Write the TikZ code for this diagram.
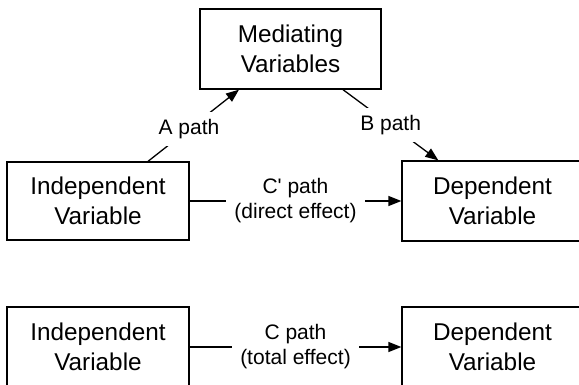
\documentclass[tikz,border=0pt]{standalone}
\usepackage{fontspec}
\setmainfont{Liberation Sans}
\usetikzlibrary{arrows.meta}
\begin{document}
\begin{tikzpicture}[x=1pt,y=-1pt,
  boxfont/.style={font=\fontsize{24.3}{30}\selectfont},
  box/.style={draw,line width=1.3pt,minimum width=182pt,minimum height=80pt,align=center,inner sep=0pt,boxfont},
  depbox/.style={box,minimum width=238pt,label={[boxfont,align=center,xshift=-28.5pt]center:Dependent\\Variable}},
  conn/.style={line width=1.3pt},
  arr/.style={conn,-{Triangle[length=13pt,width=10pt]}},
  lab/.style={fill=white,inner xsep=8pt,inner ysep=7pt,align=center,font=\fontsize{21}{25}\selectfont}]
\fill[white] (0,0) rectangle (579,384);
\useasboundingbox (0,0) rectangle (579,384);
\node[box,minimum width=181pt] (med) at (290.5,49) {Mediating\\Variables};
\node[box,minimum height=78pt] (ind1) at (98,201) {Independent\\Variable};
\node[depbox] (dep1) at (521,201) {};
\node[box] (ind2) at (98,347) {Independent\\Variable};
\node[depbox] (dep2) at (521,347) {};
\draw[arr] ([xshift=50pt]ind1.north) -- node[lab,pos=0.45]{A path} ([xshift=-51.5pt]med.south);
\draw[arr] ([xshift=52.5pt]med.south) -- node[lab]{B path} ([xshift=37pt]dep1.north west);
\draw[arr] (ind1.east) -- node[lab,inner ysep=2pt]{C\textquotesingle{} path\\(direct effect)} (dep1.west);
\draw[arr] (ind2.east) -- node[lab,inner ysep=2pt]{C path\\(total effect)} (dep2.west);
\end{tikzpicture}
\end{document}
